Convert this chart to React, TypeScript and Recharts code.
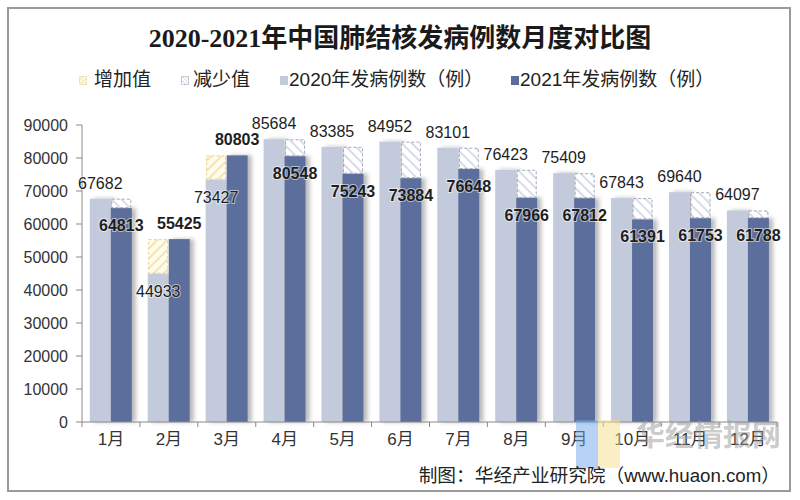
import React from 'react';
import { BarChart, Bar, XAxis, YAxis, LabelList } from 'recharts';

const months = ['1月', '2月', '3月', '4月', '5月', '6月', '7月', '8月', '9月', '10月', '11月', '12月'];
const cases2020 = [67682, 44933, 73427, 85684, 83385, 84952, 83101, 76423, 75409, 67843, 69640, 64097];
const cases2021 = [64813, 55425, 80803, 80548, 75243, 73884, 76648, 67966, 67812, 61391, 61753, 61788];
const yTicks = [0, 10000, 20000, 30000, 40000, 50000, 60000, 70000, 80000, 90000];

const title = '2020-2021年中国肺结核发病例数月度对比图';
const legendItems = ['增加值', '减少值', '2020年发病例数（例）', '2021年发病例数（例）'];
const sourceText = '制图：华经产业研究院（www.huaon.com）';

const data = months.map((m, i) => ({
  month: m,
  v2020: cases2020[i],
  inc: Math.max(0, cases2021[i] - cases2020[i]),
  v2021: cases2021[i],
  dec: Math.max(0, cases2020[i] - cases2021[i]),
}));

const LIGHT = '#c3cadb';
const DARK = '#5b6e9b';
const AXIS = '#8a8a8a';
const SANS = '"Liberation Sans", Arial, "Noto Sans CJK SC", sans-serif';

const W = 800;
const H = 500;
const PLOT_LEFT = 82;
const PLOT_RIGHT = 777;
const PLOT_TOP = 125;
const PLOT_BOTTOM = 422;
const BAND = (PLOT_RIGHT - PLOT_LEFT) / months.length;

const SolidBar = (props: any) => {
  const { x, y, width, height, fill } = props;
  if (!height || height <= 0) return null;
  return <rect x={x} y={y} width={width} height={height} fill={fill} filter="url(#barShadow)" />;
};

const HatchBar = (patternId: string, stroke: string) => (props: any) => {
  const { x, y, width, height } = props;
  if (!height || height <= 0.5) return null;
  return (
    <rect
      x={x + 1}
      y={y + 0.5}
      width={width - 2}
      height={height - 1}
      fill={`url(#${patternId})`}
      stroke={stroke}
      strokeWidth={1}
      strokeDasharray="3 2"
    />
  );
};

const makeLabel = (own: number[], other: number[], bold: boolean) => (props: any) => {
  const { x, y, width, index } = props;
  const v = own[index];
  const above = v >= other[index];
  const ty = above ? y - 10 : y + 23;
  return (
    <text
      x={x + width / 2}
      y={ty}
      textAnchor="middle"
      fontSize={16}
      fontFamily={SANS}
      fontWeight={bold ? 'bold' : 'normal'}
      fill="#1e1e1e"
      stroke="#ffffff"
      strokeWidth={2}
      strokeOpacity={0.55}
      paintOrder="stroke"
    >
      {v}
    </text>
  );
};

const XTick = (props: any) => {
  const { x, y, payload, index } = props;
  return (
    <g>
      <line x1={x - BAND / 2} x2={x - BAND / 2} y1={PLOT_BOTTOM} y2={PLOT_BOTTOM + 5} stroke={AXIS} />
      {index === months.length - 1 && (
        <line x1={x + BAND / 2} x2={x + BAND / 2} y1={PLOT_BOTTOM} y2={PLOT_BOTTOM + 5} stroke={AXIS} />
      )}
      <text x={x} y={y} dy="0.71em" textAnchor="middle" fontSize={17} fontFamily={SANS} fill="#333">
        {payload.value}
      </text>
    </g>
  );
};

const LegendIcon = ({ kind }: { kind: number }) => {
  if (kind === 0)
    return (
      <svg width={8} height={9} style={{ display: 'block' }}>
        <rect x={0.5} y={0.5} width={7} height={8} fill="url(#incHatchL)" stroke="#eadb9c" strokeDasharray="2 1" />
      </svg>
    );
  if (kind === 1)
    return (
      <svg width={8} height={9} style={{ display: 'block' }}>
        <rect x={0.5} y={0.5} width={7} height={8} fill="url(#decHatchL)" stroke="#aab2c2" strokeDasharray="2 1" />
      </svg>
    );
  return (
    <svg width={8} height={9} style={{ display: 'block' }}>
      <rect x={0} y={0} width={8} height={9} fill={kind === 2 ? LIGHT : DARK} />
    </svg>
  );
};

const legendPos = [
  { icon: 79, text: 94 },
  { icon: 181, text: 193 },
  { icon: 280, text: 289 },
  { icon: 511, text: 520 },
];

export default function App() {
  return (
    <div style={{ position: 'absolute', left: 0, top: 0, width: W, height: H, background: '#fff' }}>
      <svg width={0} height={0} style={{ position: 'absolute' }}>
        <defs>
          <pattern id="incHatchL" width="3" height="3" patternUnits="userSpaceOnUse" patternTransform="rotate(45)">
            <rect width="3" height="3" fill="#fffbea" />
            <line x1="0" y1="0" x2="0" y2="3" stroke="#f0dc96" strokeWidth="1.5" />
          </pattern>
          <pattern id="decHatchL" width="3" height="3" patternUnits="userSpaceOnUse" patternTransform="rotate(-45)">
            <rect width="3" height="3" fill="#ffffff" />
            <line x1="0" y1="0" x2="0" y2="3" stroke="#c8cfdd" strokeWidth="1.5" />
          </pattern>
        </defs>
      </svg>
      <BarChart
        width={W}
        height={H}
        data={data}
        margin={{ top: PLOT_TOP, right: W - PLOT_RIGHT, bottom: H - PLOT_BOTTOM - 30, left: 12 }}
        barCategoryGap="13.5%"
        barGap={0}
      >
        <defs>
          <filter id="barShadow" x="-30%" y="-5%" width="170%" height="110%">
            <feDropShadow dx="4" dy="0" stdDeviation="2" floodColor="#000" floodOpacity="0.28" />
          </filter>
          <pattern id="incHatch" width="7" height="7" patternUnits="userSpaceOnUse" patternTransform="rotate(45)">
            <rect width="7" height="7" fill="#fffcee" />
            <line x1="0" y1="0" x2="0" y2="7" stroke="#f1e2a4" strokeWidth="3.5" />
          </pattern>
          <pattern id="decHatch" width="7" height="7" patternUnits="userSpaceOnUse" patternTransform="rotate(-45)">
            <rect width="7" height="7" fill="#ffffff" />
            <line x1="0" y1="0" x2="0" y2="7" stroke="#d2d8e5" strokeWidth="3.5" />
          </pattern>
        </defs>
        <XAxis
          dataKey="month"
          height={30}
          axisLine={{ stroke: AXIS }}
          tickLine={false}
          tickSize={0}
          tickMargin={11}
          tick={<XTick />}
          interval={0}
        />
        <YAxis
          width={70}
          domain={[0, 90000]}
          ticks={yTicks}
          interval={0}
          axisLine={{ stroke: AXIS }}
          tickLine={{ stroke: AXIS }}
          tickSize={6}
          tickMargin={8}
          tick={{ fontSize: 16, fill: '#333', fontFamily: SANS }}
        />
        <Bar dataKey="v2020" stackId="a" fill={LIGHT} shape={<SolidBar />} isAnimationActive={false}>
          <LabelList dataKey="v2020" content={makeLabel(cases2020, cases2021, false)} />
        </Bar>
        <Bar dataKey="inc" stackId="a" fill="#f1e2a4" shape={HatchBar('incHatch', '#e6d38a')} isAnimationActive={false} />
        <Bar dataKey="v2021" stackId="b" fill={DARK} shape={<SolidBar />} isAnimationActive={false}>
          <LabelList dataKey="v2021" content={makeLabel(cases2021, cases2020, true)} />
        </Bar>
        <Bar dataKey="dec" stackId="b" fill="#d2d8e5" shape={HatchBar('decHatch', '#a3abbb')} isAnimationActive={false} />
      </BarChart>

      {/* overlay: frame, title, source, watermark */}
      <svg width={W} height={H} style={{ position: 'absolute', left: 0, top: 0, pointerEvents: 'none' }}>
        <rect x={8} y={8} width={782} height={483} fill="none" stroke="#9a9a9a" strokeWidth={2} />
        <text
          x={400}
          y={47}
          textAnchor="middle"
          fontSize={26}
          fontWeight="bold"
          fontFamily={'"Liberation Serif", "Noto Sans CJK SC", serif'}
          fill="#1a1a1a"
        >
          {title}
        </text>
        <rect x={576} y={420} width={22} height={48} fill="#6fa6ea" opacity={0.5} />
        <rect x={598} y={420} width={22} height={48} fill="#f6e08a" opacity={0.5} />
        <text x={636} y={446} fontSize={29} fontWeight="bold" fontFamily={SANS} fill="#9a9a9a" opacity={0.5}>
          华经情报网
        </text>
        <text x={780} y={482} textAnchor="end" fontSize={18.7} fontFamily={SANS} fill="#222">
          {sourceText}
        </text>
      </svg>

      {legendItems.map((t, i) => (
        <React.Fragment key={t}>
          <div style={{ position: 'absolute', left: legendPos[i].icon, top: 76 }}>
            <LegendIcon kind={i} />
          </div>
          <div
            style={{
              position: 'absolute',
              left: legendPos[i].text,
              top: 68,
              fontSize: 19,
              lineHeight: '24px',
              fontFamily: SANS,
              color: '#222',
              whiteSpace: 'nowrap',
            }}
          >
            {t}
          </div>
        </React.Fragment>
      ))}
    </div>
  );
}
